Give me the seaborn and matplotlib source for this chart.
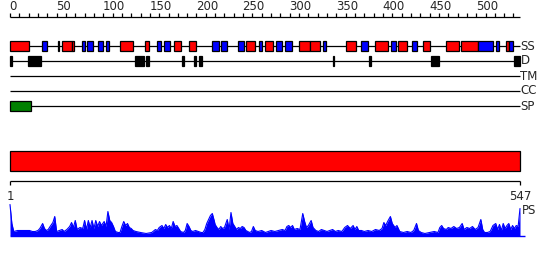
import numpy as np
import pandas as pd
import matplotlib
matplotlib.use("Agg")
import matplotlib.pyplot as plt
from matplotlib.patches import Rectangle
import seaborn as sns

# ---------------- data ----------------
seq_len = 547
ruler_major = [0, 50, 100, 150, 200, 250, 300, 350, 400, 450, 500]

ss_start = [0, 34, 51, 56, 66, 77, 83, 94, 103, 118, 145, 158, 165, 176, 192, 217, 226, 245, 253, 267,
            274, 285, 295, 310, 322, 336, 360, 376, 392, 409, 416, 431, 443, 468, 484, 502, 521, 532, 535]
ss_end = [20, 40, 53, 66, 69, 80, 89, 100, 106, 132, 149, 162, 172, 183, 199, 224, 233, 251, 263, 270,
          282, 292, 302, 322, 332, 339, 371, 384, 405, 414, 426, 436, 451, 482, 502, 518, 525, 535, 540]
ss_type = ["H", "E", "E", "H", "H", "E", "E", "E", "E", "H", "H", "E", "E", "H", "H", "E", "E", "E", "H", "E",
           "H", "E", "E", "H", "H", "E", "H", "E", "H", "E", "H", "E", "H", "H", "H", "E", "E", "H", "E"]

d_start = [0, 19, 134, 146, 185, 197, 203, 346, 385, 452, 541]
d_end = [2, 33, 144, 149, 187, 199, 206, 348, 387, 460, 547]

sp_start = [0]
sp_end = [22]

row_labels = ["SS", "D", "TM", "CC", "SP"]

ps_res = [0, 2, 4, 8, 14, 21, 24, 27, 30, 32, 35, 37, 39, 41, 43, 46, 48, 50, 53, 56, 58, 61, 64, 66, 68, 70,
          72, 75, 78, 80, 82, 84, 86, 88, 90, 92, 94, 96, 98, 101, 103, 105, 107, 109, 111, 113, 116, 118, 120,
          122, 124, 126, 128, 130, 132, 135, 140, 146, 152, 156, 158, 160, 163, 165, 167, 169, 171, 173, 175,
          177, 179, 181, 183, 186, 188, 190, 192, 194, 196, 199, 202, 205, 207, 209, 211, 213, 215, 217, 219,
          220, 222, 224, 226, 228, 230, 233, 235, 237, 239, 241, 243, 245, 247, 249, 251, 253, 255, 257, 259,
          261, 263, 266, 270, 274, 277, 280, 284, 288, 292, 295, 297, 299, 301, 303, 305, 308, 311, 314, 316,
          318, 320, 323, 325, 328, 331, 334, 337, 340, 343, 346, 349, 352, 356, 359, 362, 365, 368, 370, 372,
          374, 377, 380, 384, 388, 392, 396, 399, 401, 403, 405, 408, 410, 413, 415, 418, 422, 426, 430, 433,
          436, 438, 441, 445, 450, 455, 459, 461, 463, 465, 468, 470, 473, 476, 479, 482, 485, 487, 490, 493,
          496, 499, 502, 505, 507, 509, 512, 515, 518, 521, 523, 525, 527, 529, 531, 533, 535, 537, 539, 541,
          543, 545, 547]
ps_score = [31, 12, 4, 5, 5, 5, 4, 4, 5, 7, 12, 7, 5, 6, 9, 13, 19, 4, 5, 6, 4, 6, 9, 13, 8, 15,
            6, 8, 7, 15, 6, 15, 8, 15, 7, 15, 9, 14, 10, 14, 9, 24, 15, 13, 9, 4, 3, 3, 9,
            14, 10, 12, 8, 7, 5, 4, 3, 2, 3, 6, 5, 8, 10, 7, 11, 8, 10, 7, 14,
            9, 10, 7, 4, 3, 5, 12, 9, 5, 4, 5, 4, 3, 3, 6, 12, 16, 20, 22, 15,
            11, 8, 6, 9, 7, 8, 16, 6, 23, 12, 9, 6, 8, 7, 9, 8, 5, 4, 3, 4,
            9, 5, 4, 5, 3, 4, 5, 4, 5, 6, 5, 9, 10, 8, 10, 6, 7, 6, 22, 14,
            8, 10, 15, 8, 5, 4, 6, 5, 4, 5, 6, 4, 5, 4, 8, 10, 7, 10, 6, 9,
            5, 5, 4, 5, 4, 6, 5, 7, 13, 10, 14, 19, 12, 8, 10, 4, 3, 4, 3, 5,
            12, 5, 3, 2, 3, 4, 3, 8, 10, 7, 6, 8, 7, 9, 7, 8, 12, 6, 8, 7,
            9, 6, 8, 16, 6, 3, 3, 4, 10, 12, 6, 11, 5, 12, 7, 10, 12, 6, 10, 7,
            10, 9, 27]

# ---------------- layout ----------------
W, H = 550, 260
left_px, right_px = 10, 520
scale = (right_px - left_px) / seq_len  # px per residue

sns.set_style("white")
plt.rcParams["font.family"] = ["DejaVu Sans"]

fig = plt.figure(figsize=(W / 100, H / 100), dpi=100)
ax = fig.add_axes([0, 0, 1, 1])
ax.set_xlim(-left_px / scale, (W - left_px) / scale)
ax.set_ylim(H, 0)
ax.axis("off")

lw = 0.9
fs_lab = 8.5

# ruler
ruler_y = 16.5
ax.hlines(ruler_y, 0, seq_len, color="black", lw=lw)
ax.vlines(np.arange(0, seq_len, 10), ruler_y - 4, ruler_y, color="black", lw=lw)
for v in ruler_major:
    ax.text(v - 0.5, ruler_y - 3, str(v), ha="left", va="bottom", fontsize=8.5)

# feature rows
row_y = [45.5, 60.5, 75.5, 90.5, 105.5]
for y, lab in zip(row_y, row_labels):
    ax.hlines(y, 0, seq_len, color="black", lw=lw, zorder=1)
    ax.text(seq_len + 0.5 / scale, y + 0.5, lab, ha="left", va="center", fontsize=fs_lab)

ss_colors = {"H": "#FF0000", "E": "#0000FF"}
for s, e, t in zip(ss_start, ss_end, ss_type):
    ax.add_patch(Rectangle((s, row_y[0] - 5), e - s, 10, facecolor=ss_colors[t],
                           edgecolor="black", lw=lw, zorder=2))
for s, e in zip(d_start, d_end):
    ax.add_patch(Rectangle((s, row_y[1] - 5), e - s, 10, facecolor="black",
                           edgecolor="black", lw=lw, zorder=2))
for s, e in zip(sp_start, sp_end):
    ax.add_patch(Rectangle((s, row_y[4] - 5), e - s, 10, facecolor="#008000",
                           edgecolor="black", lw=lw, zorder=2))

# domain bar
ax.add_patch(Rectangle((0, 150.5), seq_len, 20, facecolor="#FF0000", edgecolor="black", lw=lw))

# bracket
br_y = 180.5
ax.hlines(br_y, 0, seq_len, color="black", lw=lw)
ax.vlines([0, seq_len], br_y, br_y + 4, color="black", lw=lw)
ax.text(0.5, 196, "1", ha="center", va="center", fontsize=8.5)
ax.text(seq_len, 196, str(seq_len), ha="center", va="center", fontsize=8.5)

# PS profile
base_y = 235.5
df = pd.DataFrame({"res": ps_res, "score": ps_score})
df["y"] = base_y - df["score"]
ax.fill_between(df["res"], df["y"], base_y, color="#0000FF", lw=0, zorder=2)
sns.lineplot(data=df, x="res", y="y", ax=ax, color="#0000FF", lw=0.8, estimator=None,
             sort=True, legend=False, zorder=3)
ax.hlines(base_y, 0, seq_len + 5 / scale, color="#0000FF", lw=1.0)
ax.text(seq_len + 1.5 / scale, 211, "PS", ha="left", va="center", fontsize=fs_lab)

ax.set_xlim(-left_px / scale, (W - left_px) / scale)
ax.set_ylim(H, 0)
ax.axis("off")
fig.savefig("out.png", dpi=100)
